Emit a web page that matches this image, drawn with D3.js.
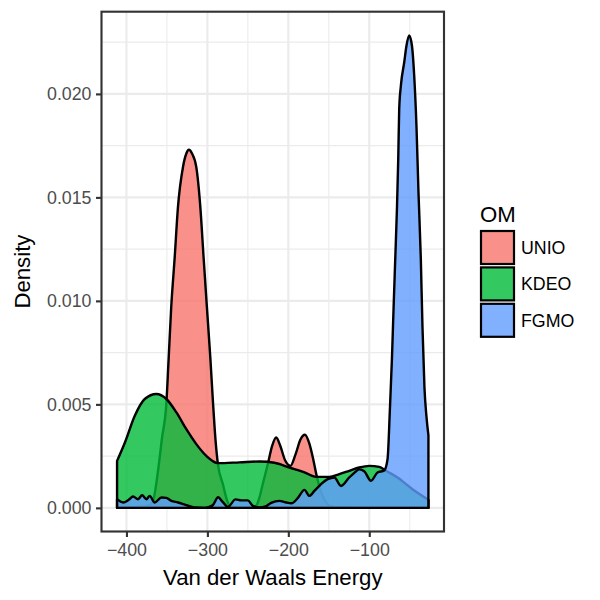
<!DOCTYPE html>
<html>
<head>
<meta charset="utf-8">
<script src="https://cdn.jsdelivr.net/npm/d3@7"></script>
<style>
  body { margin: 0; background: #fff; }
  svg { display: block; }
  text { font-family: "Liberation Sans", Arial, Helvetica, sans-serif; }
</style>
</head>
<body>
<svg id="chart" width="600" height="600"></svg>
<script>
// ---- Data ----
const groups = ["UNIO", "KDEO", "FGMO"];
const groupColors = ["#F8766D", "#00BA38", "#619CFF"];

const unioDensity = [
  [-411.6, 0.00002], [-385, 0.00004], [-372, 0.00012], [-367, 0.00036], [-361, 0.00179],
  [-356, 0.0034], [-350.7, 0.00505], [-347.8, 0.00727], [-344.7, 0.00969], [-340.4, 0.0121],
  [-336.4, 0.01452], [-330.2, 0.01646], [-326, 0.01712], [-322.8, 0.0173], [-319, 0.01712],
  [-313.7, 0.01646], [-308.7, 0.01452], [-304.7, 0.0121], [-300.6, 0.00969], [-296.4, 0.00727],
  [-293.2, 0.00517], [-290, 0.0033], [-287, 0.00211], [-280.9, 0.00115], [-276, 0.0004],
  [-272.6, 0.0001], [-260, 0.00002], [-245, 0.00002], [-239.7, 0.0001], [-235, 0.0006],
  [-231.6, 0.00115], [-225.4, 0.00211], [-220, 0.003], [-215, 0.0034], [-210, 0.003],
  [-204, 0.0023], [-197.4, 0.00203], [-191, 0.0026], [-185, 0.0033], [-179.5, 0.00353],
  [-174, 0.0031], [-169, 0.0023], [-164.7, 0.0015], [-158, 0.0006], [-152, 0.0002],
  [-149.3, 0.0001], [-140, 0.00002], [-100, 0], [-26.9, 0]
];

const kdeoDensity = [
  [-411.6, 0.00227], [-401.9, 0.00316], [-389.7, 0.00445], [-377.4, 0.00526], [-363, 0.0055],
  [-350.7, 0.00526], [-338.3, 0.00461], [-326, 0.0038], [-313.7, 0.00308], [-301.3, 0.00251],
  [-287, 0.00216], [-260.3, 0.0022], [-235.6, 0.00224], [-217.1, 0.00218], [-198.6, 0.00195],
  [-180.1, 0.00172], [-165.7, 0.0015], [-149.3, 0.0015], [-137, 0.00163], [-124.7, 0.00179],
  [-112.4, 0.00195], [-100, 0.00203], [-87.7, 0.00198], [-79.4, 0.00179], [-65.1, 0.00147],
  [-46.6, 0.0009], [-26.9, 0.00039]
];

const fgmoDensity = [
  [-411.6, 0.00042], [-404.2, 0.00026], [-397.2, 0.00039], [-391.8, 0.00055], [-385.7, 0.00042],
  [-380.7, 0.00061], [-375.3, 0.00042], [-371.3, 0.00058], [-365.1, 0.00026], [-356.8, 0.0005],
  [-350.7, 0.00048], [-344.5, 0.00034], [-336.4, 0.00026], [-326, 0.00013], [-315.8, 0.00002],
  [-303.4, 0], [-293.6, 0.00012], [-286.8, 0.00051], [-281.2, 0.00029], [-274.7, 0.00005],
  [-265.2, 0.00041], [-258.2, 0.00036], [-250.1, 0.00036], [-243.9, 0.0001], [-235.6, 0.00002],
  [-228.2, 0.00007], [-221.2, 0.00024], [-211, 0.00034], [-203.6, 0.00027], [-196.2, 0.00022],
  [-188.4, 0.00047], [-180.1, 0.00087], [-174, 0.00058], [-167.8, 0.00082], [-159.5, 0.00115],
  [-151.4, 0.00139], [-143.1, 0.00147], [-134.9, 0.00106], [-124.7, 0.00147], [-118.5, 0.00169],
  [-112.4, 0.00186], [-106.2, 0.00177], [-97.9, 0.00131], [-89.8, 0.00171], [-81.5, 0.00181],
  [-77.4, 0.00236], [-74.5, 0.00477], [-72, 0.00719], [-70, 0.00961], [-67.9, 0.01203],
  [-65.8, 0.01445], [-64.2, 0.01686], [-63, 0.01928], [-60.9, 0.02041], [-56.8, 0.02153],
  [-54, 0.02234], [-50.7, 0.02283], [-47.3, 0.02234], [-44.5, 0.02089], [-41.7, 0.01847],
  [-39.2, 0.01525], [-36.3, 0.01203], [-34.3, 0.0088], [-31.8, 0.0058], [-29.3, 0.0044],
  [-26.9, 0.0035]
];

const seriesData = [unioDensity, kdeoDensity, fgmoDensity];
const xTicks = [-400, -300, -200, -100];
const yTicks = [0, 0.005, 0.010, 0.015, 0.020];
const xTitle = "Van der Waals Energy";
const yTitle = "Density";
const legendTitle = "OM";

// ---- Layout ----
const panel = { left: 101.5, right: 444, top: 11.7, bottom: 531.5 };
const svg = d3.select("#chart");

const allX = seriesData.flat().map(d => d[0]);
const xMin = d3.min(allX), xMax = d3.max(allX);
const xPad = (xMax - xMin) * 0.05;
const yMax = d3.max(seriesData.flat(), d => d[1]);
const yPad = yMax * 0.05;

const x = d3.scaleLinear().domain([xMin - xPad, xMax + xPad]).range([panel.left, panel.right]);
const y = d3.scaleLinear().domain([-yPad, yMax + yPad]).range([panel.bottom, panel.top]);

function alphaOnWhite(hex, a) {
  const c = d3.rgb(hex);
  return d3.rgb(255 - a * (255 - c.r), 255 - a * (255 - c.g), 255 - a * (255 - c.b)).formatHex();
}

// background
svg.append("rect").attr("x", panel.left).attr("y", panel.top)
  .attr("width", panel.right - panel.left).attr("height", panel.bottom - panel.top)
  .attr("fill", "#fff");

// grid
const grid = svg.append("g");
const xMinor = [], yMinor = [];
for (let i = 0; i < xTicks.length + 1; i++) {
  const v = (i < xTicks.length ? xTicks[i] : xTicks[i - 1] + 100) - 50;
  if (v > x.domain()[0] && v < x.domain()[1]) xMinor.push(v);
}
for (let i = 0; i < yTicks.length + 1; i++) {
  const v = (i < yTicks.length ? yTicks[i] : yTicks[i - 1] + 0.005) - 0.0025;
  if (v > y.domain()[0] && v < y.domain()[1]) yMinor.push(v);
}
grid.selectAll(".xmin").data(xMinor).enter().append("line")
  .attr("x1", d => x(d)).attr("x2", d => x(d)).attr("y1", panel.top).attr("y2", panel.bottom)
  .attr("stroke", "#EBEBEB").attr("stroke-width", 1.07);
grid.selectAll(".ymin").data(yMinor).enter().append("line")
  .attr("y1", d => y(d)).attr("y2", d => y(d)).attr("x1", panel.left).attr("x2", panel.right)
  .attr("stroke", "#EBEBEB").attr("stroke-width", 1.07);
grid.selectAll(".xmaj").data(xTicks).enter().append("line")
  .attr("x1", d => x(d)).attr("x2", d => x(d)).attr("y1", panel.top).attr("y2", panel.bottom)
  .attr("stroke", "#EBEBEB").attr("stroke-width", 2.13);
grid.selectAll(".ymaj").data(yTicks).enter().append("line")
  .attr("y1", d => y(d)).attr("y2", d => y(d)).attr("x1", panel.left).attr("x2", panel.right)
  .attr("stroke", "#EBEBEB").attr("stroke-width", 2.13);

// density areas
const area = d3.area()
  .x(d => x(d[0]))
  .y0(y(0))
  .y1(d => y(d[1]))
  .curve(d3.curveMonotoneX);

svg.append("g").selectAll("path").data(seriesData).enter().append("path")
  .attr("d", d => area(d) + "Z")
  .attr("fill", (d, i) => groupColors[i])
  .attr("fill-opacity", 0.8)
  .attr("stroke", "#000")
  .attr("stroke-width", 2.4)
  .attr("stroke-linejoin", "round");

// panel border
svg.append("rect").attr("x", panel.left).attr("y", panel.top)
  .attr("width", panel.right - panel.left).attr("height", panel.bottom - panel.top)
  .attr("fill", "none").attr("stroke", "#333333").attr("stroke-width", 2.13);

// axes
const xAxis = svg.append("g").attr("transform", `translate(0,${panel.bottom})`)
  .call(d3.axisBottom(x).tickValues(xTicks).tickSize(5.5).tickPadding(6.5).tickFormat(d3.format("d")));
const yAxis = svg.append("g").attr("transform", `translate(${panel.left},0)`)
  .call(d3.axisLeft(y).tickValues(yTicks).tickSize(5.5).tickPadding(4.5).tickFormat(d3.format(".3f")));
[xAxis, yAxis].forEach(g => {
  g.select(".domain").remove();
  g.selectAll(".tick line").attr("stroke", "#333333").attr("stroke-width", 2.13);
  g.selectAll(".tick text").attr("fill", "#4D4D4D").style("font-size", "17.8px")
    .style("font-family", "'Liberation Sans', Arial, sans-serif");
});

// axis titles
svg.append("text").attr("x", (panel.left + panel.right) / 2).attr("y", 585)
  .attr("text-anchor", "middle").style("font-size", "22.2px").attr("fill", "#000").text(xTitle);
svg.append("text").attr("transform", `translate(30,${(panel.top + panel.bottom) / 2}) rotate(-90)`)
  .attr("text-anchor", "middle").style("font-size", "22.2px").attr("fill", "#000").text(yTitle);

// legend
const leg = svg.append("g");
leg.append("text").attr("x", 480).attr("y", 221.5).style("font-size", "22.2px").attr("fill", "#000").text(legendTitle);
const keyStep = 36.4, keyTop = 231, keySize = 33;
groups.forEach((g, i) => {
  leg.append("rect").attr("x", 481).attr("y", keyTop + i * keyStep)
    .attr("width", keySize).attr("height", keySize)
    .attr("fill", alphaOnWhite(groupColors[i], 0.8))
    .attr("stroke", "#000").attr("stroke-width", 2.2);
  leg.append("text").attr("x", 521).attr("y", keyTop + i * keyStep + keySize / 2)
    .attr("dy", "0.35em").style("font-size", "17.8px").attr("fill", "#000").text(g);
});
</script>
</body>
</html>
